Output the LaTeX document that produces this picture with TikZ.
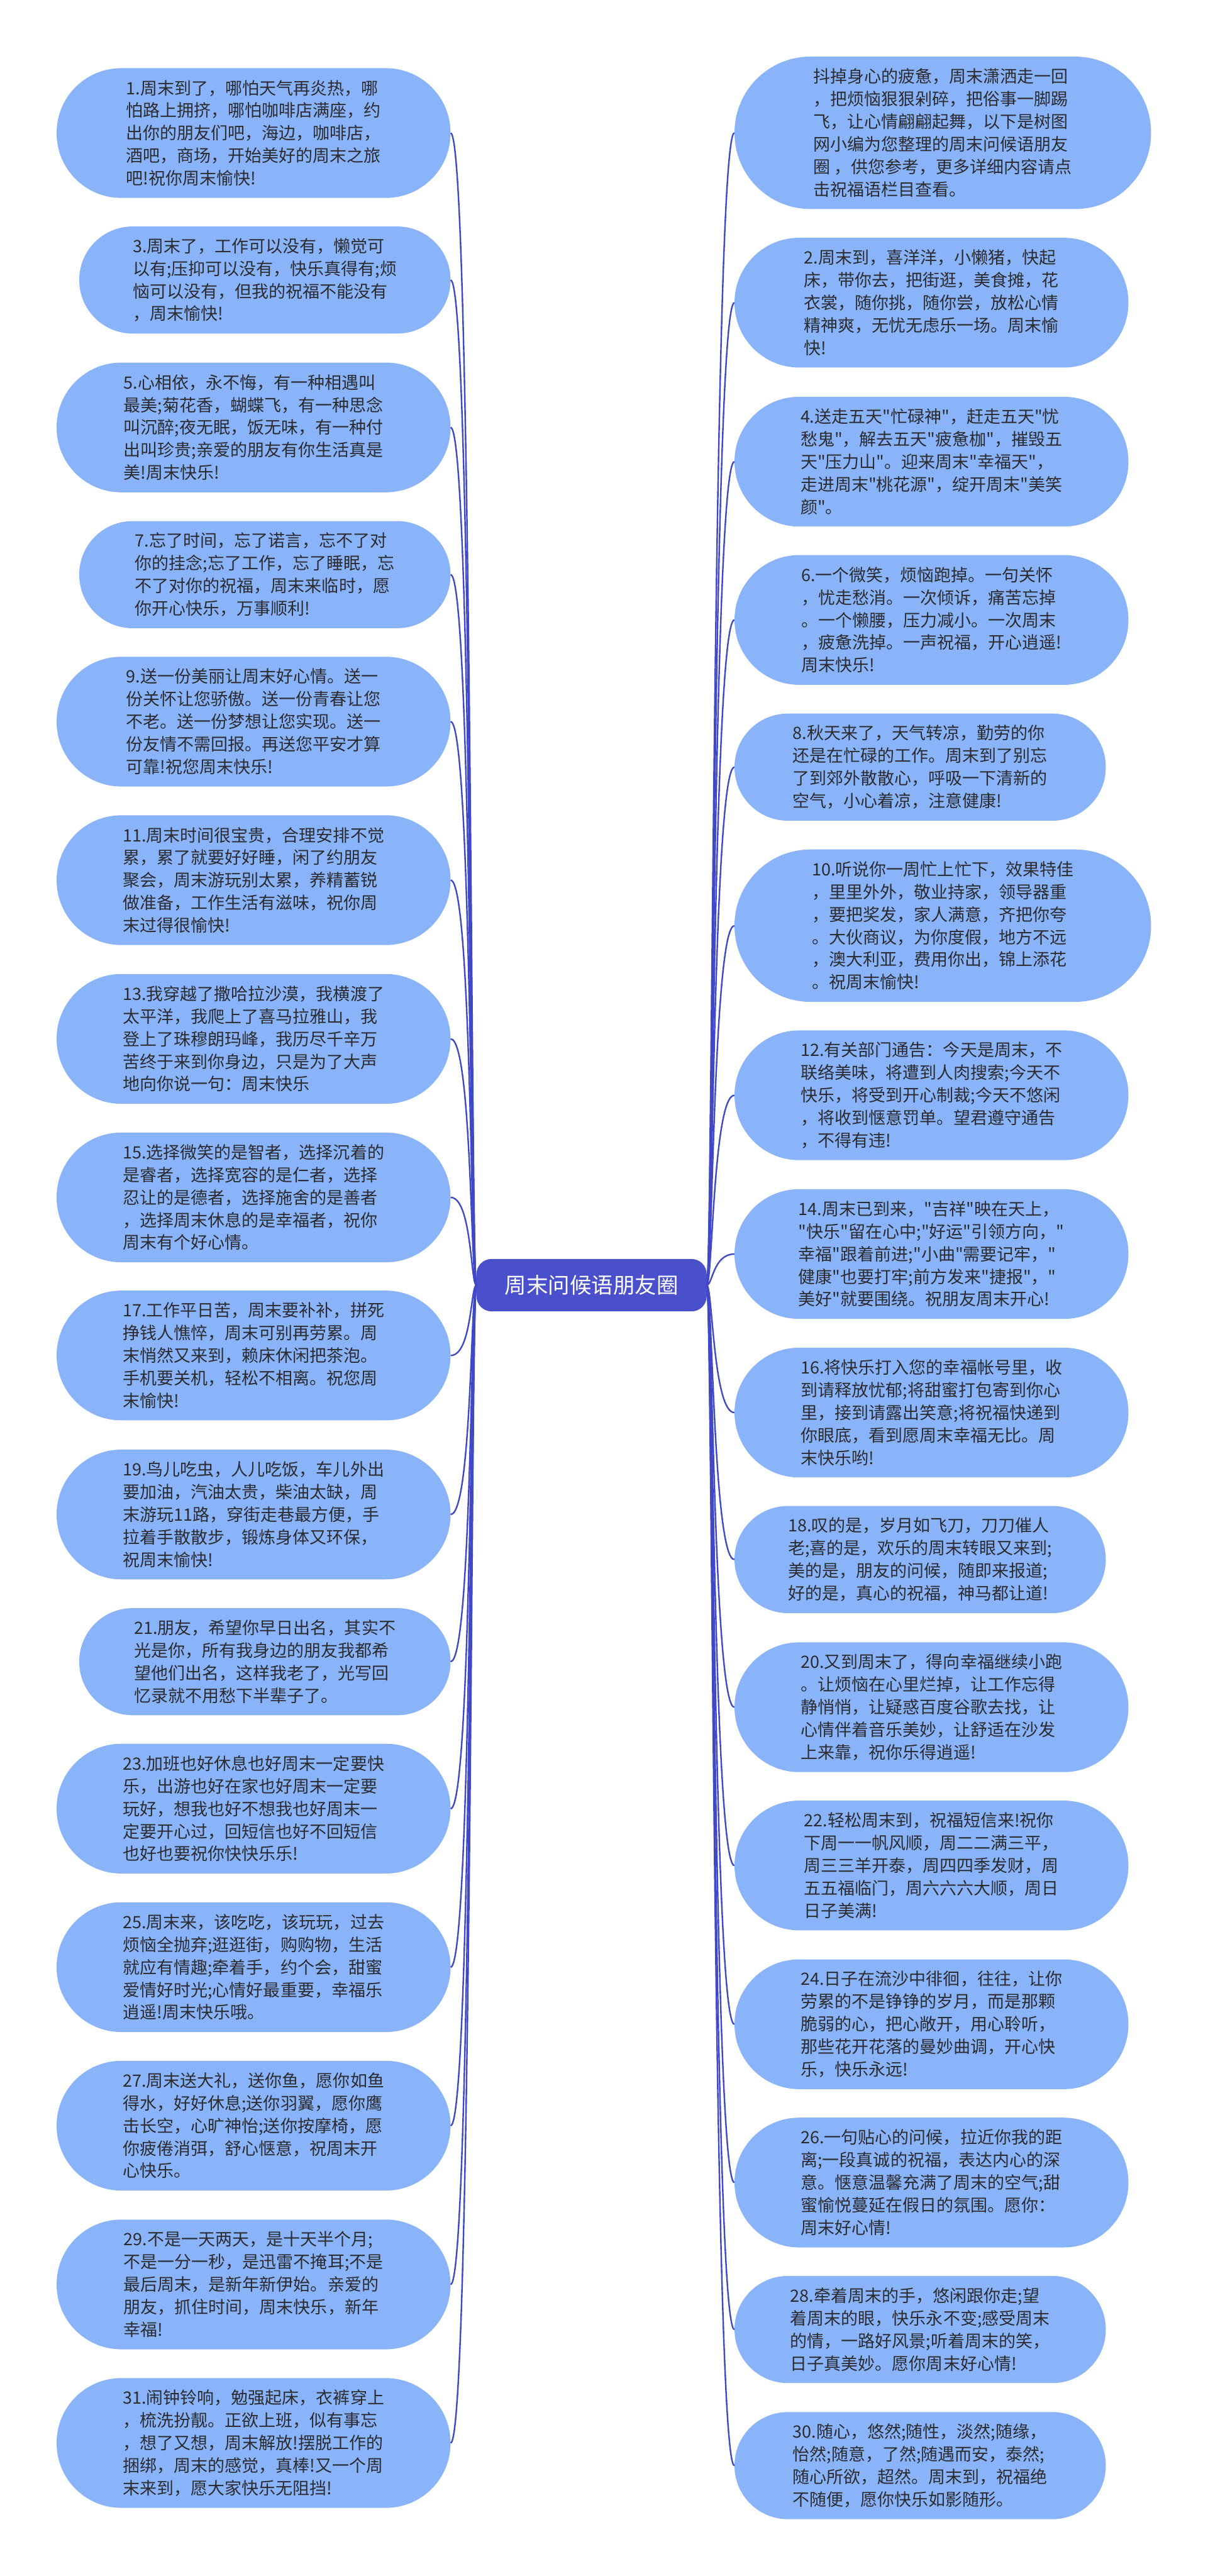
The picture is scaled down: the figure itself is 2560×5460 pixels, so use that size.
\documentclass[tikz,border=0pt]{standalone}
\usepackage{fontspec}
\setmainfont{Noto Sans CJK SC}[Ligatures=TeXOff]
\definecolor{leafblue}{RGB}{138,180,249}
\definecolor{txt}{RGB}{43,43,48}
\definecolor{linkblue}{RGB}{64,72,200}
\definecolor{rootblue}{RGB}{74,80,204}
\tikzset{
  leaf/.style={fill=leafblue, draw=none, text=txt, align=left, inner sep=0pt,
    font=\fontsize{36}{47.8}\selectfont},
  hfive/.style={minimum height=275pt, minimum width=835pt, rounded corners=137pt},
  hfour/.style={minimum height=227pt, minimum width=787pt, rounded corners=113pt},
  hsix/.style={minimum height=323pt, minimum width=883pt, rounded corners=161pt},
  rootnode/.style={fill=rootblue, text=white, draw=none, inner sep=0pt,
    minimum width=488pt, minimum height=111pt, rounded corners=32pt,
    font=\fontsize{46}{55}\selectfont},
  link/.style={draw=linkblue, line width=3.2pt},
}
\begin{document}
\begin{tikzpicture}[x=1pt,y=-1pt]
\fill[white] (0,0) rectangle (2560,5460);
\useasboundingbox (0,0) rectangle (2560,5460);

\node[rootnode] (c) at (1254,2724) {周末问候语朋友圈};

% left column
\node[leaf,hfive] (l1) at (537.5,282) {1.周末到了，哪怕天气再炎热，哪\\怕路上拥挤，哪怕咖啡店满座，约\\出你的朋友们吧，海边，咖啡店，\\酒吧，商场，开始美好的周末之旅\\吧!祝你周末愉快!};
\node[leaf,hfour] (l3) at (561.5,593.5) {3.周末了，工作可以没有，懒觉可\\以有;压抑可以没有，快乐真得有;烦\\恼可以没有，但我的祝福不能没有\\，周末愉快!};
\node[leaf,hfive] (l5) at (537.5,906) {5.心相依，永不悔，有一种相遇叫\\最美;菊花香，蝴蝶飞，有一种思念\\叫沉醉;夜无眠，饭无味，有一种付\\出叫珍贵;亲爱的朋友有你生活真是\\美!周末快乐!};
\node[leaf,hfour] (l7) at (561.5,1218) {7.忘了时间，忘了诺言，忘不了对\\你的挂念;忘了工作，忘了睡眠，忘\\不了对你的祝福，周末来临时，愿\\你开心快乐，万事顺利!};
\node[leaf,hfive] (l9) at (537.5,1529.5) {9.送一份美丽让周末好心情。送一\\份关怀让您骄傲。送一份青春让您\\不老。送一份梦想让您实现。送一\\份友情不需回报。再送您平安才算\\可靠!祝您周末快乐!};
\node[leaf,hfive] (l11) at (537.5,1865.5) {11.周末时间很宝贵，合理安排不觉\\累，累了就要好好睡，闲了约朋友\\聚会，周末游玩别太累，养精蓄锐\\做准备，工作生活有滋味，祝你周\\末过得很愉快!};
\node[leaf,hfive] (l13) at (537.5,2202) {13.我穿越了撒哈拉沙漠，我横渡了\\太平洋，我爬上了喜马拉雅山，我\\登上了珠穆朗玛峰，我历尽千辛万\\苦终于来到你身边，只是为了大声\\地向你说一句：周末快乐};
\node[leaf,hfive] (l15) at (537.5,2538) {15.选择微笑的是智者，选择沉着的\\是睿者，选择宽容的是仁者，选择\\忍让的是德者，选择施舍的是善者\\，选择周末休息的是幸福者，祝你\\周末有个好心情。};
\node[leaf,hfive] (l17) at (537.5,2873) {17.工作平日苦，周末要补补，拼死\\挣钱人憔悴，周末可别再劳累。周\\末悄然又来到，赖床休闲把茶泡。\\手机要关机，轻松不相离。祝您周\\末愉快!};
\node[leaf,hfive] (l19) at (537.5,3210) {19.鸟儿吃虫，人儿吃饭，车儿外出\\要加油，汽油太贵，柴油太缺，周\\末游玩11路，穿街走巷最方便，手\\拉着手散散步，锻炼身体又环保，\\祝周末愉快!};
\node[leaf,hfour] (l21) at (561.5,3522) {21.朋友，希望你早日出名，其实不\\光是你，所有我身边的朋友我都希\\望他们出名，这样我老了，光写回\\忆录就不用愁下半辈子了。};
\node[leaf,hfive] (l23) at (537.5,3833.5) {23.加班也好休息也好周末一定要快\\乐，出游也好在家也好周末一定要\\玩好，想我也好不想我也好周末一\\定要开心过，回短信也好不回短信\\也好也要祝你快快乐乐!};
\node[leaf,hfive] (l25) at (537.5,4169.5) {25.周末来，该吃吃，该玩玩，过去\\烦恼全抛弃;逛逛街，购购物，生活\\就应有情趣;牵着手，约个会，甜蜜\\爱情好时光;心情好最重要，幸福乐\\逍遥!周末快乐哦。};
\node[leaf,hfive] (l27) at (537.5,4505.5) {27.周末送大礼，送你鱼，愿你如鱼\\得水，好好休息;送你羽翼，愿你鹰\\击长空，心旷神怡;送你按摩椅，愿\\你疲倦消弭，舒心惬意，祝周末开\\心快乐。};
\node[leaf,hfive] (l29) at (537.5,4842) {29.不是一天两天，是十天半个月;\\不是一分一秒，是迅雷不掩耳;不是\\最后周末，是新年新伊始。亲爱的\\朋友，抓住时间，周末快乐，新年\\幸福!};
\node[leaf,hfive] (l31) at (537.5,5178) {31.闹钟铃响，勉强起床，衣裤穿上\\，梳洗扮靓。正欲上班，似有事忘\\，想了又想，周末解放!摆脱工作的\\捆绑，周末的感觉，真棒!又一个周\\末来到，愿大家快乐无阻挡!};

% right column
\node[leaf,hsix] (r0) at (1998.5,281.5) {抖掉身心的疲惫，周末潇洒走一回\\，把烦恼狠狠剁碎，把俗事一脚踢\\飞，让心情翩翩起舞，以下是树图\\网小编为您整理的周末问候语朋友\\圈 ，供您参考，更多详细内容请点\\击祝福语栏目查看。};
\node[leaf,hfive] (r2) at (1974.5,641.5) {2.周末到，喜洋洋，小懒猪，快起\\床，带你去，把街逛，美食摊，花\\衣裳，随你挑，随你尝，放松心情\\精神爽，无忧无虑乐一场。周末愉\\快!};
\node[leaf,hfive] (r4) at (1974.5,978.5) {4.送走五天"忙碌神"，赶走五天"忧\\愁鬼"，解去五天"疲惫枷"，摧毁五\\天"压力山"。迎来周末"幸福天"，\\走进周末"桃花源"，绽开周末"美笑\\颜"。};
\node[leaf,hfive] (r6) at (1974.5,1314) {6.一个微笑，烦恼跑掉。一句关怀\\，忧走愁消。一次倾诉，痛苦忘掉\\。一个懒腰，压力减小。一次周末\\，疲惫洗掉。一声祝福，开心逍遥!\\周末快乐!};
\node[leaf,hfour] (r8) at (1950.5,1626) {8.秋天来了，天气转凉，勤劳的你\\还是在忙碌的工作。周末到了别忘\\了到郊外散散心，呼吸一下清新的\\空气，小心着凉，注意健康!};
\node[leaf,hsix] (r10) at (1998.5,1962) {10.听说你一周忙上忙下，效果特佳\\，里里外外，敬业持家，领导器重\\，要把奖发，家人满意，齐把你夸\\。大伙商议，为你度假，地方不远\\，澳大利亚，费用你出，锦上添花\\。祝周末愉快!};
\node[leaf,hfive] (r12) at (1974.5,2321.5) {12.有关部门通告：今天是周末，不\\联络美味，将遭到人肉搜索;今天不\\快乐，将受到开心制裁;今天不悠闲\\，将收到惬意罚单。望君遵守通告\\，不得有违!};
\node[leaf,hfive] (r14) at (1974.5,2658) {14.周末已到来，"吉祥"映在天上，\\"快乐"留在心中;"好运"引领方向，"\\幸福"跟着前进;"小曲"需要记牢，"\\健康"也要打牢;前方发来"捷报"，"\\美好"就要围绕。祝朋友周末开心!};
\node[leaf,hfive] (r16) at (1974.5,2994) {16.将快乐打入您的幸福帐号里，收\\到请释放忧郁;将甜蜜打包寄到你心\\里，接到请露出笑意;将祝福快递到\\你眼底，看到愿周末幸福无比。周\\末快乐哟!};
\node[leaf,hfour] (r18) at (1950.5,3305.5) {18.叹的是，岁月如飞刀，刀刀催人\\老;喜的是，欢乐的周末转眼又来到;\\美的是，朋友的问候，随即来报道;\\好的是，真心的祝福，神马都让道!};
\node[leaf,hfive] (r20) at (1974.5,3618.5) {20.又到周末了，得向幸福继续小跑\\。让烦恼在心里烂掉，让工作忘得\\静悄悄，让疑惑百度谷歌去找，让\\心情伴着音乐美妙，让舒适在沙发\\上来靠，祝你乐得逍遥!};
\node[leaf,hfive] (r22) at (1974.5,3954) {22.轻松周末到，祝福短信来!祝你\\下周一一帆风顺，周二二满三平，\\周三三羊开泰，周四四季发财，周\\五五福临门，周六六六大顺，周日\\日子美满!};
\node[leaf,hfive] (r24) at (1974.5,4290.5) {24.日子在流沙中徘徊，往往，让你\\劳累的不是铮铮的岁月，而是那颗\\脆弱的心，把心敞开，用心聆听，\\那些花开花落的曼妙曲调，开心快\\乐，快乐永远!};
\node[leaf,hfive] (r26) at (1974.5,4626) {26.一句贴心的问候，拉近你我的距\\离;一段真诚的祝福，表达内心的深\\意。惬意温馨充满了周末的空气;甜\\蜜愉悦蔓延在假日的氛围。愿你：\\周末好心情!};
\node[leaf,hfour] (r28) at (1950.5,4937.5) {28.牵着周末的手，悠闲跟你走;望\\着周末的眼，快乐永不变;感受周末\\的情，一路好风景;听着周末的笑，\\日子真美妙。愿你周末好心情!};
\node[leaf,hfour] (r30) at (1950.5,5226) {30.随心，悠然;随性，淡然;随缘，\\怡然;随意，了然;随遇而安，泰然;\\随心所欲，超然。周末到，祝福绝\\不随便，愿你快乐如影随形。};

% connectors
\foreach \n in {l1,l3,l5,l7,l9,l11,l13,l15,l17,l19,l21,l23,l25,l27,l29,l31}
  \draw[link] (\n.east) .. controls +(45,0) and +(-12,0) .. (c.west);
\foreach \n in {r0,r2,r4,r6,r8,r10,r12,r14,r16,r18,r20,r22,r24,r26,r28,r30}
  \draw[link] (c.east) .. controls +(12,0) and +(-45,0) .. (\n.west);
\end{tikzpicture}
\end{document}
